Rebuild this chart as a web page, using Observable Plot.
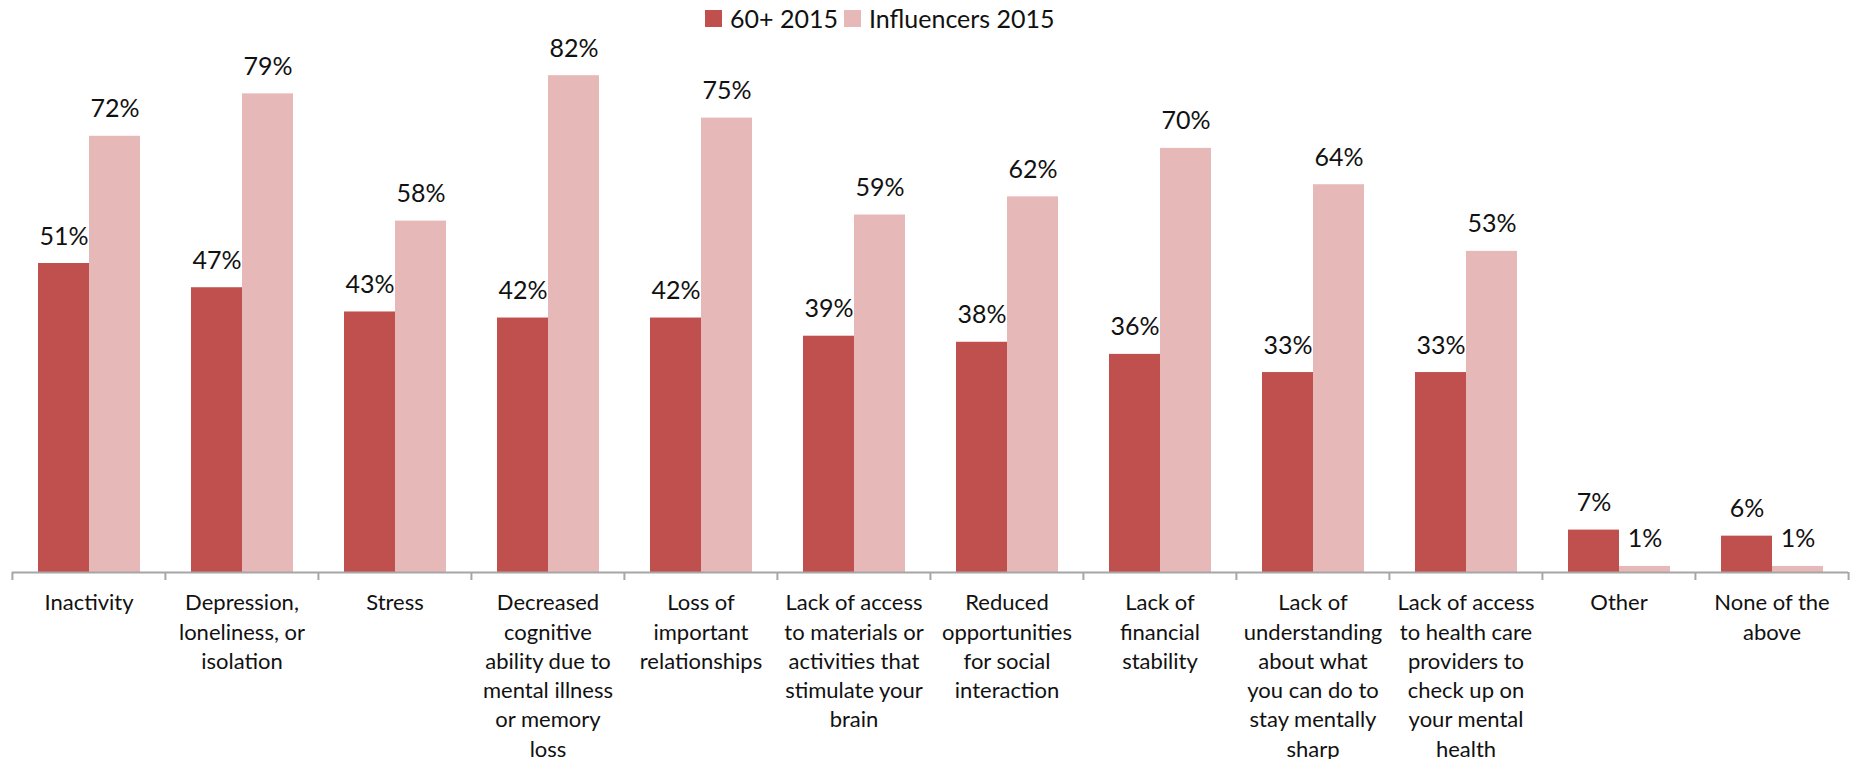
<!DOCTYPE html>
<html>
<head>
<meta charset="utf-8">
<script src="https://cdn.jsdelivr.net/npm/d3@7"></script>
<script src="https://cdn.jsdelivr.net/npm/@observablehq/plot@0.6"></script>
<style>
  html, body { margin: 0; padding: 0; background: #fff; }
  body { width: 1856px; height: 759px; overflow: hidden; font-family: Lato, "Open Sans", sans-serif; }
  #legend { position: relative; height: 30px; }
  .item { position: absolute; top: 3px; display: flex; align-items: center; font-size: 25px; line-height: 30px; color: #111; }
  .sw { width: 17px; height: 17px; margin-right: 8px; display: inline-block; }
</style>
</head>
<body>
<div id="legend"></div>
<div id="chart"></div>
<script>
const categories = [
  "Inactivity",
  "Depression, loneliness, or isolation",
  "Stress",
  "Decreased cognitive ability due to mental illness or memory loss",
  "Loss of important relationships",
  "Lack of access to materials or activities that stimulate your brain",
  "Reduced opportunities for social interaction",
  "Lack of financial stability",
  "Lack of understanding about what you can do to stay mentally sharp",
  "Lack of access to health care providers to check up on your mental health",
  "Other",
  "None of the above"
];
const tickLabels = [
  "Inactivity",
  "Depression,\nloneliness, or\nisolation",
  "Stress",
  "Decreased\ncognitive\nability due to\nmental illness\nor memory\nloss",
  "Loss of\nimportant\nrelationships",
  "Lack of access\nto materials or\nactivities that\nstimulate your\nbrain",
  "Reduced\nopportunities\nfor social\ninteraction",
  "Lack of\nfinancial\nstability",
  "Lack of\nunderstanding\nabout what\nyou can do to\nstay mentally\nsharp",
  "Lack of access\nto health care\nproviders to\ncheck up on\nyour mental\nhealth",
  "Other",
  "None of the\nabove"
];
const series = ["60+ 2015", "Influencers 2015"];
const values60 = [51, 47, 43, 42, 42, 39, 38, 36, 33, 33, 7, 6];
const valuesInfluencers = [72, 79, 58, 82, 75, 59, 62, 70, 64, 53, 1, 1];
const colors = ["#C0504D", "#E6B9B8"];

const data = categories.flatMap((c, i) => [
  {category: c, series: series[0], value: values60[i]},
  {category: c, series: series[1], value: valuesInfluencers[i]}
]);

// legend
const legend = document.getElementById("legend");
const lefts = [705, 844];
series.forEach((s, i) => {
  const it = document.createElement("div");
  it.className = "item";
  it.style.left = lefts[i] + "px";
  it.innerHTML = `<span class="sw" style="background:${colors[i]}"></span><span>${s}</span>`;
  legend.appendChild(it);
});

const W = 1856, H = 729, mL = 11, mR = 7, mT = 27, mB = 187;
const band = (W - mL - mR) / categories.length;
const labelOf = c => tickLabels[categories.indexOf(c)];

const chart = Plot.plot({
  width: W,
  height: H,
  marginLeft: mL,
  marginRight: mR,
  marginTop: mT,
  marginBottom: mB,
  style: {fontFamily: "Lato, 'Open Sans', sans-serif", color: "#111", background: "#fff", overflow: "visible"},
  fx: {domain: categories, padding: 0, label: null, axis: null},
  x: {domain: series, paddingInner: 0, paddingOuter: 0.5, axis: null},
  y: {domain: [0, 85], axis: null},
  color: {domain: series, range: colors},
  marks: [
    Plot.barY(data, {fx: "category", x: "series", y: "value", fill: "series"}),
    Plot.text(data, {fx: "category", x: "series", y: "value", text: d => d.value + "%", lineAnchor: "bottom", dy: -19, fontSize: 25, fill: "#111"}),
    Plot.ruleY([0], {stroke: "#a6a6a6", strokeWidth: 2}),
    Plot.axisFx({anchor: "bottom", tickSize: 0, tickPadding: 17, tickFormat: labelOf, fontSize: 22, lineHeight: 1.33, fill: "#111", label: null}),
    Plot.axisFx({anchor: "bottom", tickSize: 8, dx: -band / 2, tickFormat: () => "", stroke: "#a6a6a6", strokeWidth: 2, label: null}),
    Plot.axisFx({anchor: "bottom", ticks: [categories[categories.length - 1]], tickSize: 8, dx: band / 2, tickFormat: () => "", stroke: "#a6a6a6", strokeWidth: 2, label: null})
  ]
});
document.getElementById("chart").appendChild(chart);
</script>
</body>
</html>
